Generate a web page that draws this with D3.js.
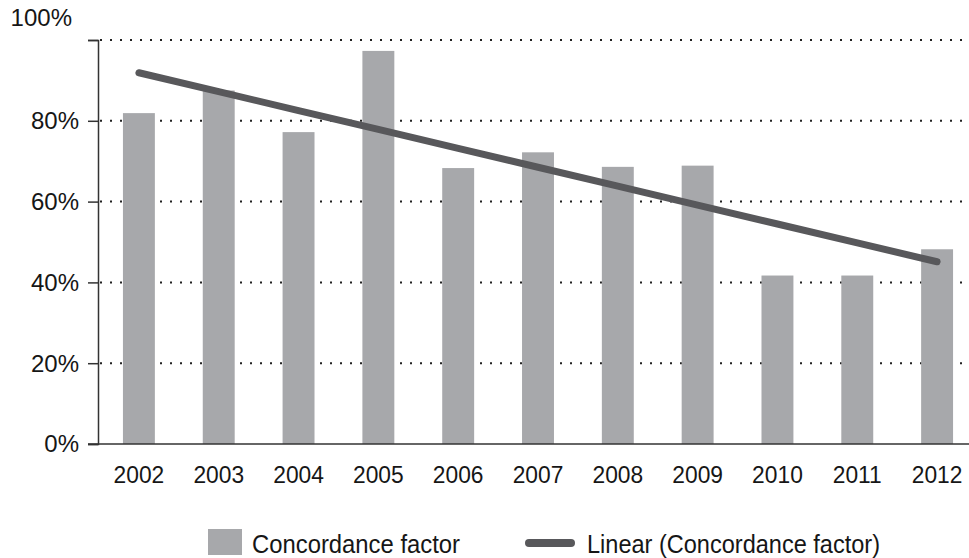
<!DOCTYPE html>
<html>
<head>
<meta charset="utf-8">
<script src="https://cdn.jsdelivr.net/npm/d3@7"></script>
<style>
  html, body { margin: 0; padding: 0; background: #fff; }
  svg { display: block; font-family: "Liberation Sans", Arial, sans-serif; }
</style>
</head>
<body>
<svg id="chart" width="969" height="558"></svg>
<script>
const years = ["2002","2003","2004","2005","2006","2007","2008","2009","2010","2011","2012"];
const concordance = [81.9, 87.5, 77.2, 97.3, 68.3, 72.2, 68.6, 68.9, 41.7, 41.7, 48.2];
const yTicks = [0, 20, 40, 60, 80, 100];
const legendLabels = ["Concordance factor", "Linear (Concordance factor)"];

const barColor = "#a7a8ab";
const lineColor = "#58585b";
const axisColor = "#333333";
const textColor = "#161616";

const svg = d3.select("#chart");
const x = d3.scaleBand().domain(years).range([99, 977]).paddingInner(0.6).paddingOuter(0.3);
const y = d3.scaleLinear().domain([0, 100]).range([444, 40]);

// gridlines
svg.append("g").selectAll("line").data(yTicks.filter(d => d > 0)).join("line")
  .attr("x1", 100).attr("x2", 969)
  .attr("y1", d => y(d)).attr("y2", d => y(d))
  .attr("stroke", "#222").attr("stroke-width", 2)
  .attr("stroke-dasharray", "2,8");

// bars
svg.append("g").selectAll("rect").data(years).join("rect")
  .attr("x", d => x(d)).attr("width", x.bandwidth())
  .attr("y", (d, i) => y(concordance[i]))
  .attr("height", (d, i) => y(0) - y(concordance[i]))
  .attr("fill", barColor);

// linear trend (least squares fit of the series)
const n = concordance.length;
const xs = d3.range(n);
const mx = d3.mean(xs), my = d3.mean(concordance);
const slope = d3.sum(xs, i => (i - mx) * (concordance[i] - my)) / d3.sum(xs, i => (i - mx) ** 2);
const icpt = my - slope * mx;
const trend = xs.map(i => icpt + slope * i);
svg.append("path")
  .datum(trend)
  .attr("d", d3.line().x((d, i) => x(years[i]) + x.bandwidth() / 2).y(d => y(d)))
  .attr("fill", "none").attr("stroke", lineColor).attr("stroke-width", 7)
  .attr("stroke-linecap", "round");

// y axis
const yAxis = svg.append("g").attr("transform", "translate(98,0)")
  .call(d3.axisLeft(y).tickValues(yTicks).tickSize(10).tickFormat(d => d + "%"));
yAxis.select(".domain").attr("stroke", axisColor).attr("stroke-width", 1.5);
yAxis.selectAll(".tick line").attr("stroke", axisColor).attr("stroke-width", 1.5);
yAxis.selectAll(".tick text")
  .attr("font-size", 24).attr("fill", textColor)
  .attr("x", -19).attr("dy", "0.33em")
  .attr("font-family", "Liberation Sans, Arial, sans-serif");
yAxis.selectAll(".tick").filter(d => d === 100).select("text")
  .attr("x", -26).attr("y", -22);

// x axis
const xAxis = svg.append("g").attr("transform", "translate(0,444)")
  .call(d3.axisBottom(x).tickSize(0).tickPadding(30));
xAxis.select(".domain").remove();
xAxis.append("line").attr("x1", 88).attr("x2", 969).attr("y1", 0).attr("y2", 0)
  .attr("stroke", axisColor).attr("stroke-width", 1.5);
xAxis.selectAll(".tick text")
  .attr("font-size", 24).attr("fill", textColor)
  .attr("y", 39).attr("dy", 0)
  .attr("transform", "scale(0.95,1)")
  .attr("font-family", "Liberation Sans, Arial, sans-serif");

// legend
const lg = svg.append("g");
lg.append("rect").attr("x", 208).attr("y", 529).attr("width", 34).attr("height", 26).attr("fill", barColor);
lg.append("text").attr("x", 252).attr("y", 553).attr("font-size", 25).attr("fill", textColor)
  .attr("textLength", 208).attr("lengthAdjust", "spacingAndGlyphs")
  .text(legendLabels[0]);
lg.append("line").attr("x1", 529).attr("x2", 571).attr("y1", 543).attr("y2", 543)
  .attr("stroke", lineColor).attr("stroke-width", 8).attr("stroke-linecap", "round");
lg.append("text").attr("x", 587).attr("y", 553).attr("font-size", 25).attr("fill", textColor)
  .attr("textLength", 293).attr("lengthAdjust", "spacingAndGlyphs")
  .text(legendLabels[1]);
</script>
</body>
</html>
